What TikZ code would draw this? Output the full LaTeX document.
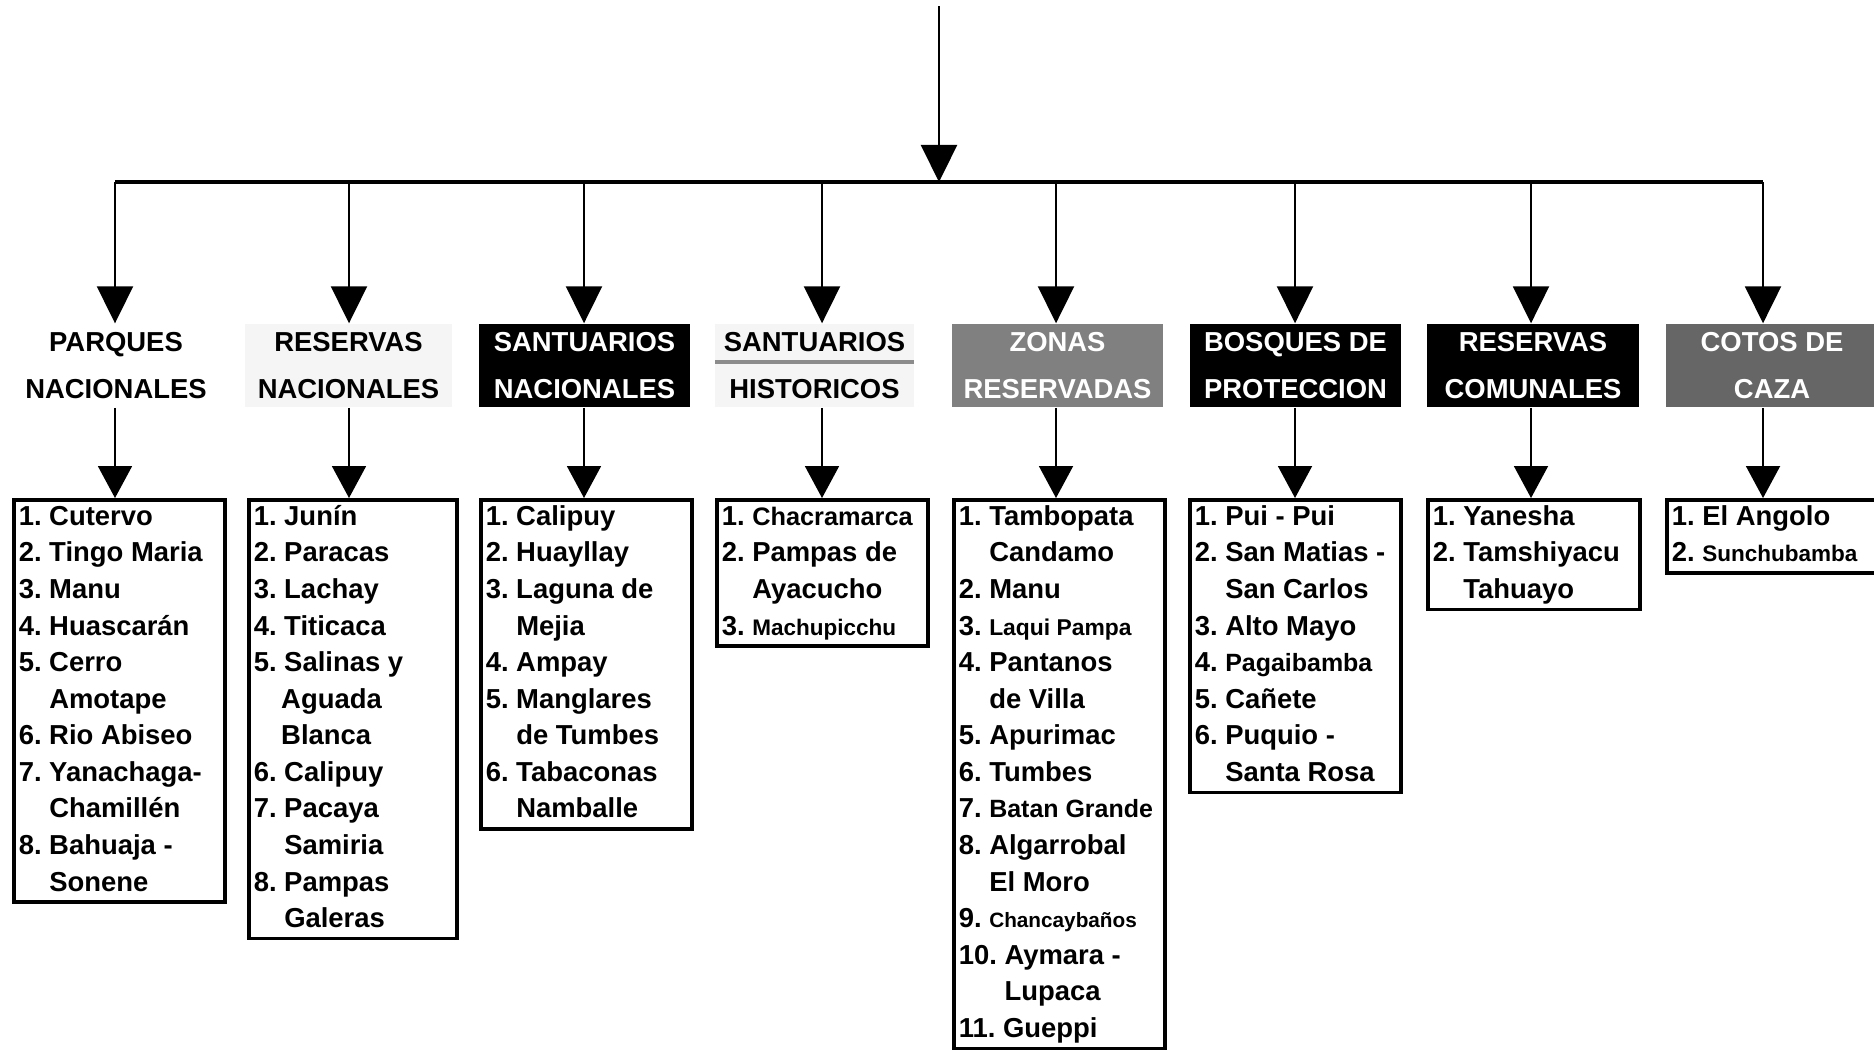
\documentclass[tikz,border=0pt]{standalone}
\usepackage{fontspec}
\setmainfont{Liberation Sans}
\usetikzlibrary{arrows.meta}
\frenchspacing
\newcommand{\ind}[1]{\phantom{#1}}
\newcommand{\smtxt}[2]{{\fontsize{#1}{10.4}\selectfont #2}}
\newcommand{\listbox}[2]{\begin{minipage}[t]{#1}\fontsize{7.8}{10.4}\selectfont\bfseries\raggedright\leftskip=0.05cm\strut #2\strut\end{minipage}}

\begin{document}
\begin{tikzpicture}[x=0.01cm, y=-0.01cm,
    arr/.style={-{Triangle[length=0.37cm,width=0.36cm]}, line width=0.6pt},
    arrsm/.style={-{Triangle[length=0.32cm,width=0.34cm]}, line width=0.5pt},
    hdr/.style={minimum width=2.11cm, minimum height=0.83cm, inner sep=0pt, align=center,
        font=\fontsize{7.8}{13.3}\selectfont\bfseries},
    dark/.style={hdr, fill=black, text=white},
    lst/.style={draw, line width=1pt, inner sep=0pt, anchor=north west}]
    \useasboundingbox (0,0) rectangle (1874,1050);
    \clip (0,0) rectangle (1874,1050);

    \coordinate (top) at (939,6);
    \coordinate (b1) at (115,182);
    \coordinate (b2) at (349,182);
    \coordinate (b3) at (584,182);
    \coordinate (b4) at (822,182);
    \coordinate (b5) at (1056,182);
    \coordinate (b6) at (1295,182);
    \coordinate (b7) at (1531,182);
    \coordinate (b8) at (1763,182);

    \node[hdr] (h1) at (116,365.5) {PARQUES\\NACIONALES};
    \node[hdr, minimum width=2.07cm, fill=black!4] (h2) at (348.5,365.5) {RESERVAS\\NACIONALES};
    \node[dark] (h3) at (584.5,365.5) {SANTUARIOS\\NACIONALES};
    \node[hdr, minimum width=1.99cm, fill=black!4] (h4) at (814.5,365.5) {SANTUARIOS\\HISTORICOS};
    \node[dark, fill=black!50] (h5) at (1057.5,365.5) {ZONAS\\RESERVADAS};
    \node[dark] (h6) at (1295.5,365.5) {BOSQUES DE\\PROTECCION};
    \node[dark] (h7) at (1533,365.5) {RESERVAS\\COMUNALES};
    \node[dark, fill=black!60] (h8) at (1772,365.5) {COTOS DE\\CAZA};
    \draw[black!45, line width=1.2pt] (715,362) -- (914,362);

    \node[lst] (l1) at (12,498) {\listbox{2.11cm}{1. Cutervo\\2. Tingo Maria\\3. Manu\\4. Huascarán\\5. Cerro\\\ind{5. }Amotape\\6. Rio Abiseo\\7. Yanachaga-\\\ind{7. }Chamillén\\8. Bahuaja -\\\ind{8. }Sonene}};
    \node[lst] (l2) at (247,498) {\listbox{2.08cm}{1. Junín\\2. Paracas\\3. Lachay\\4. Titicaca\\5. Salinas y\\\ind{5.\,}Aguada\\\ind{5.\,}Blanca\\6. Calipuy\\7. Pacaya\\\ind{7. }Samiria\\8. Pampas\\\ind{8. }Galeras}};
    \node[lst] (l3) at (479,498) {\listbox{2.11cm}{1. Calipuy\\2. Huayllay\\3. Laguna de\\\ind{3. }Mejia\\4. Ampay\\5. Manglares\\\ind{5. }de Tumbes\\6. Tabaconas\\\ind{6. }Namballe}};
    \node[lst] (l4) at (715,498) {\listbox{2.11cm}{1. \smtxt{7.2}{Chacramarca}\\2. Pampas de\\\ind{2. }Ayacucho\\3. \smtxt{6.4}{Machupicchu}}};
    \node[lst] (l5) at (952,498) {\listbox{2.11cm}{1. Tambopata\\\ind{1. }Candamo\\2. Manu\\3. \smtxt{6.5}{Laqui Pampa}\\4. Pantanos\\\ind{4. }de Villa\\5. Apurimac\\6. Tumbes\\7. \smtxt{7.1}{Batan Grande}\\8. Algarrobal\\\ind{8. }El Moro\\9. \smtxt{5.9}{Chancaybaños}\\10. Aymara -\\\ind{10. }Lupaca\\11. Gueppi}};
    \node[lst] (l6) at (1188,498) {\listbox{2.11cm}{1. Pui - Pui\\2. San Matias -\\\ind{2. }San Carlos\\3. Alto Mayo\\4. \smtxt{7.1}{Pagaibamba}\\5. Cañete\\6. Puquio -\\\ind{6. }Santa Rosa}};
    \node[lst] (l7) at (1426,498) {\listbox{2.12cm}{1. Yanesha\\2. Tamshiyacu\\\ind{2. }Tahuayo}};
    \node[lst] (l8) at (1665,498) {\listbox{2.11cm}{1. El Angolo\\2. \smtxt{6.4}{Sunchubamba}}};

    \draw[arr] (top) -- (top |- b1);
    \draw[line width=1.3pt] (b1) -- (b8);
    \draw[arr] (b1) -- (b1 |- h1.north);
    \draw[arr] (b2) -- (b2 |- h2.north);
    \draw[arr] (b3) -- (b3 |- h3.north);
    \draw[arr] (b4) -- (b4 |- h4.north);
    \draw[arr] (b5) -- (b5 |- h5.north);
    \draw[arr] (b6) -- (b6 |- h6.north);
    \draw[arr] (b7) -- (b7 |- h7.north);
    \draw[arr] (b8) -- (b8 |- h8.north);
    \draw[arrsm] (b1 |- h1.south) -- (b1 |- l1.north);
    \draw[arrsm] (b2 |- h2.south) -- (b2 |- l2.north);
    \draw[arrsm] (b3 |- h3.south) -- (b3 |- l3.north);
    \draw[arrsm] (b4 |- h4.south) -- (b4 |- l4.north);
    \draw[arrsm] (b5 |- h5.south) -- (b5 |- l5.north);
    \draw[arrsm] (b6 |- h6.south) -- (b6 |- l6.north);
    \draw[arrsm] (b7 |- h7.south) -- (b7 |- l7.north);
    \draw[arrsm] (b8 |- h8.south) -- (b8 |- l8.north);
\end{tikzpicture}
\end{document}
